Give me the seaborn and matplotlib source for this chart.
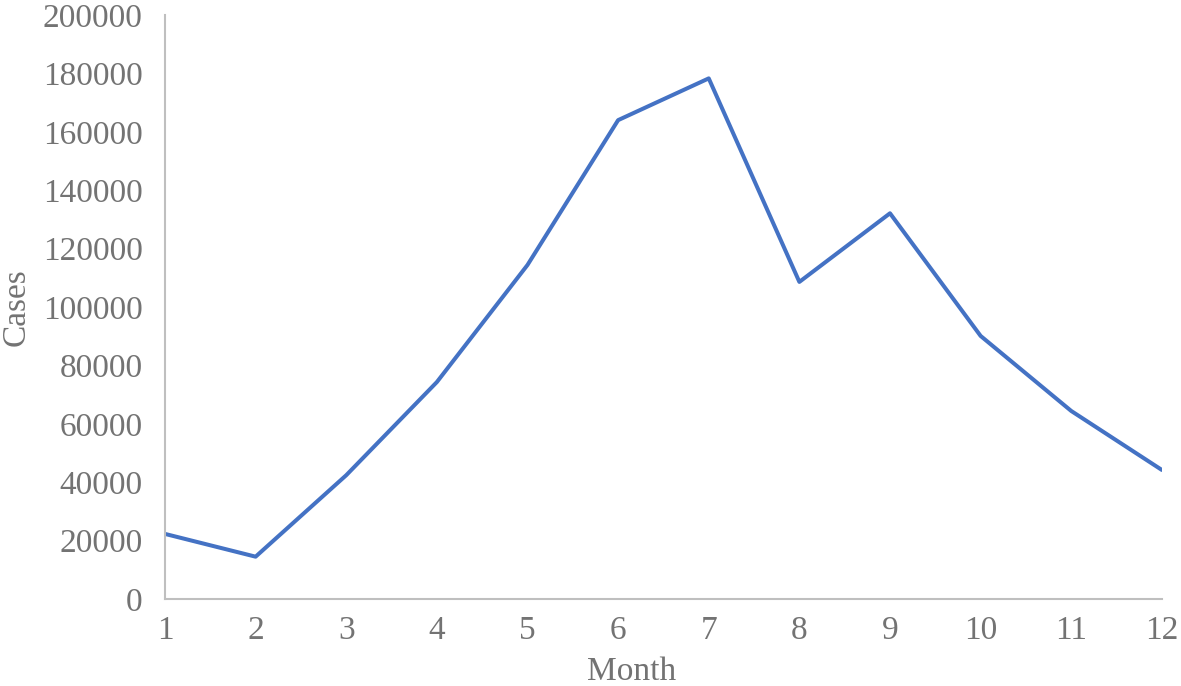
#!/usr/bin/env python
"""
Monthly cases line chart.
"""

import numpy as np
import pandas as pd
import matplotlib
matplotlib.use("Agg")
import matplotlib.pyplot as plt
import seaborn as sns

months = [1, 2, 3, 4, 5, 6, 7, 8, 9, 10, 11, 12]
cases = [22300, 14500, 42400, 74300, 114400, 164000, 178300,
         108600, 132100, 90100, 64400, 44200]
y_ticks = [0, 20000, 40000, 60000, 80000, 100000, 120000,
           140000, 160000, 180000, 200000]


def run():
    sns.set_style("white")
    plt.rcParams["font.family"] = ["Liberation Serif", "DejaVu Serif"]

    text_col = "#737373"
    axis_col = "#bfbfbf"
    fs = 24

    df = pd.DataFrame({"Month": months, "Cases": cases})

    fig = plt.figure(figsize=(11.81, 6.86), dpi=100)
    ax = fig.add_axes([0.1397, 0.1268, 0.8441, 0.8513])

    sns.lineplot(data=df, x="Month", y="Cases", ax=ax, color="#4472C4", linewidth=2.9)

    ax.set_xlim(1, 12)
    ax.set_ylim(0, 200000)
    ax.set_yticks(y_ticks)
    ax.set_yticklabels([str(v) for v in y_ticks])
    ax.set_xticks(months)
    ax.set_xticks(list(np.arange(1.5, 12, 1.0)) + [12], minor=True)

    for spine in ("top", "right"):
        ax.spines[spine].set_visible(False)
    for spine in ("left", "bottom"):
        ax.spines[spine].set_color(axis_col)
        ax.spines[spine].set_linewidth(1.5)

    ax.tick_params(axis="x", which="major", length=0, pad=12, labelsize=fs, labelcolor=text_col)
    ax.tick_params(axis="x", which="minor", direction="in", length=6, width=1.5, color=axis_col)
    ax.tick_params(axis="y", which="major", direction="in", length=6, width=1.5,
                   color=axis_col, pad=16, labelsize=fs, labelcolor=text_col)

    ax.set_xlabel("Month", fontsize=fs, color=text_col)
    ax.xaxis.set_label_coords(0.468, -0.098)
    ax.set_ylabel("Cases", fontsize=fs, color=text_col, labelpad=8)

    fig.patch.set_facecolor("w")
    fig.savefig("out.png", dpi=100)


if __name__ == "__main__":
    run()
